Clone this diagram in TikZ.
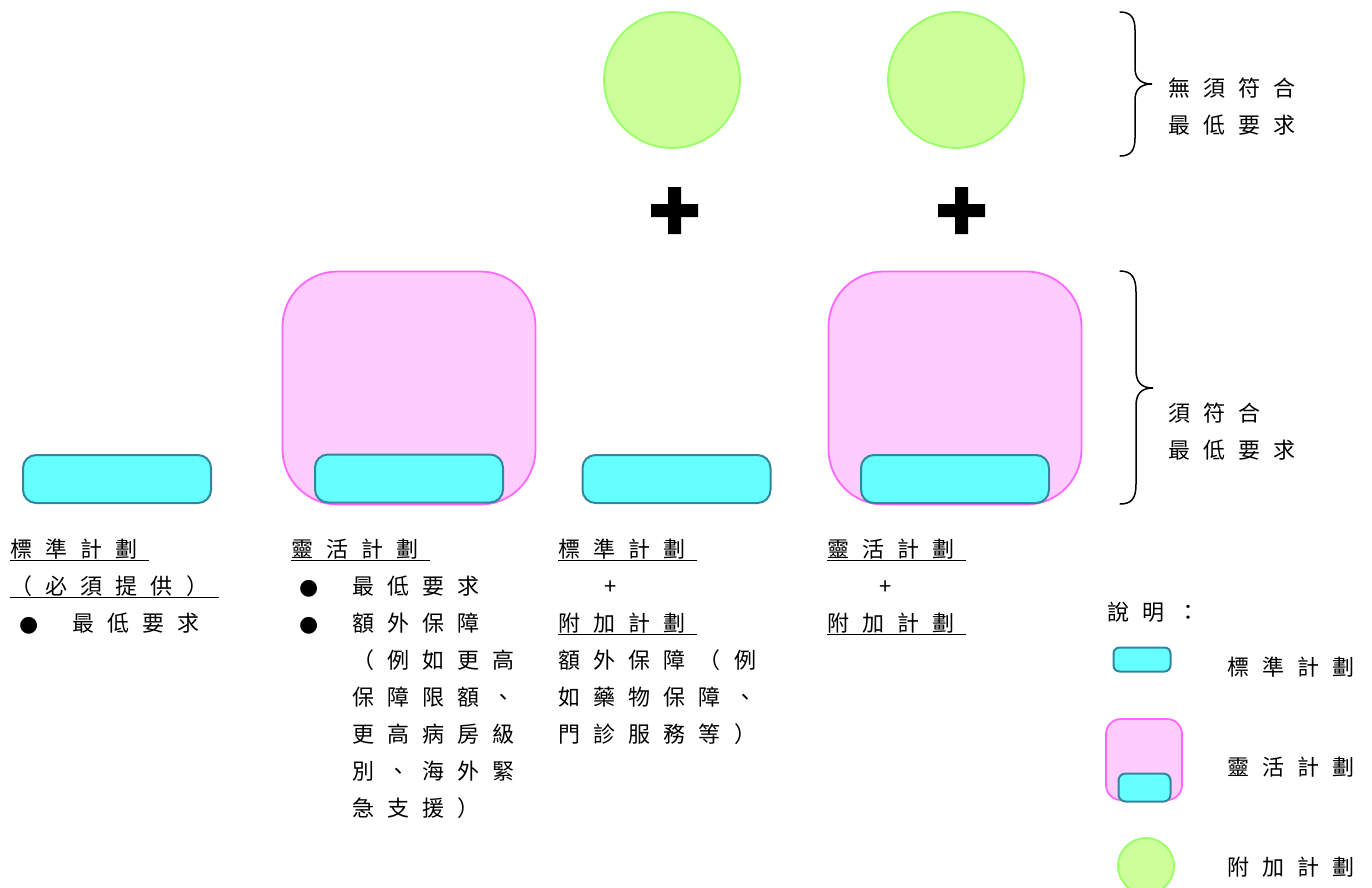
\documentclass[tikz,border=0pt]{standalone}
\usepackage{fontspec}
\newfontfamily\cjk[LetterSpace=60]{Noto Sans CJK TC}
\newfontfamily\symfont{DejaVu Sans}
\definecolor{stdfill}{HTML}{66FFFF}
\definecolor{stdborder}{HTML}{31859C}
\definecolor{flexfill}{HTML}{FFCCFF}
\definecolor{flexborder}{HTML}{FF66FF}
\definecolor{addfill}{HTML}{CCFF99}
\definecolor{addborder}{HTML}{99FF66}
\newcommand\myul[1]{\setbox0\hbox{#1\hspace*{11pt}}\rlap{\rule[-4.4pt]{\wd0}{1.6pt}}\box0}
\newcommand\mybul[2]{\makebox[#2][l]{\hspace*{#1}{\symfont\fontsize{22pt}{22pt}\selectfont ●}}}
\newcommand\myind{\hspace*{61pt}}
\newcommand\firststrut{\rule{0pt}{20pt}}
\tikzset{
  stdplan/.style={draw=stdborder, fill=stdfill, line width=2pt, rounded corners=13pt,
    minimum width=188pt, minimum height=48pt, inner sep=0pt},
  flexplan/.style={draw=flexborder, fill=flexfill, line width=1.8pt, rounded corners=55pt,
    minimum width=253pt, minimum height=233pt, inner sep=0pt},
  addplan/.style={circle, draw=addborder, fill=addfill, line width=1.8pt,
    minimum size=136pt, inner sep=0pt},
  txt/.style={font=\cjk\fontsize{22pt}{37pt}\selectfont, inner sep=0pt, outer sep=0pt,
    align=left, anchor=north west},
  lbl/.style={font=\cjk\fontsize{22pt}{37pt}\selectfont, inner sep=0pt, outer sep=0pt,
    anchor=base west},
  bracepath/.style={line width=1.5pt, line cap=round},
  plussign/.style={fill=black}
}
\begin{document}
\begin{tikzpicture}[x=1pt,y=-1pt]
\useasboundingbox (0,0) rectangle (1372,887);

% add-on plans (circles)
\node[addplan] (add1) at (672,80) {};
\node[addplan] (add2) at (956,80) {};

% plus signs
\fill[plussign] (651,204) rectangle (698,217) (668,187) rectangle (681,234);
\fill[plussign] (938,204) rectangle (985,217) (955,187) rectangle (968,234);

% flexible plans
\node[flexplan] (flex1) at (409,388) {};
\node[flexplan] (flex2) at (955,388) {};

% standard plans
\node[stdplan] (std1) at (117,479) {};
\node[stdplan] (std2) at (409,478.5) {};
\node[stdplan] (std3) at (676.5,479) {};
\node[stdplan] (std4) at (955,479) {};

% braces
\draw[bracepath] (1120,12) .. controls (1131,12) and (1135,18) .. (1135,30) -- (1135,68)
  .. controls (1135,78) and (1140,84) .. (1152,84)
  .. controls (1140,84) and (1135,90) .. (1135,100) -- (1135,138)
  .. controls (1135,150) and (1131,156) .. (1120,156);
\draw[bracepath] (1120,271) .. controls (1132,271) and (1136,278) .. (1136,292) -- (1136,370)
  .. controls (1136,382) and (1141,388) .. (1153,388)
  .. controls (1141,388) and (1136,394) .. (1136,406) -- (1136,484)
  .. controls (1136,498) and (1132,504) .. (1120,504);
\node[txt] (brtop) at (1168,76.4) {\firststrut 無須符合\\最低要求};
\node[txt] (brbot) at (1168,401.4) {\firststrut 須符合\\最低要求};

% column texts
\node[txt] (col1) at (10,537) {\firststrut\myul{標準計劃}\\
  \myul{（必須提供）}\\
  \mybul{9pt}{62pt}最低要求};
\node[txt] (col2) at (291,537) {\firststrut\myul{靈活計劃}\\
  \mybul{8pt}{61pt}最低要求\\
  \mybul{8pt}{61pt}額外保障\\
  \myind（例如更高\\
  \myind 保障限額、\\
  \myind 更高病房級\\
  \myind 別、海外緊\\
  \myind 急支援）};
\node[txt] (col3) at (558,537) {\firststrut\myul{標準計劃}\\
  \hspace*{46pt}+\\
  \myul{附加計劃}\\
  額外保障（例\\
  如藥物保障、\\
  門診服務等）};
\node[txt] (col4) at (827,537) {\firststrut\myul{靈活計劃}\\
  \hspace*{52pt}+\\
  \myul{附加計劃}};

% legend
\node[lbl] (legtitle) at (1107,620) {說明：};
\node[stdplan, minimum width=57pt, minimum height=24pt, rounded corners=6pt] (legstd) at (1142,659.5) {};
\node[lbl] (legstdtxt) at (1227,675.4) {標準計劃};
\node[flexplan, minimum width=76pt, minimum height=81pt, rounded corners=15pt] (legflex) at (1144,759.5) {};
\node[stdplan, minimum width=52pt, minimum height=28pt, rounded corners=7pt] (legflexstd) at (1144.5,787.5) {};
\node[lbl] (legflextxt) at (1227,775.4) {靈活計劃};
\node[addplan, minimum size=56pt] (legadd) at (1146,866) {};
\node[lbl] (legaddtxt) at (1227,875.4) {附加計劃};
\end{tikzpicture}
\end{document}
